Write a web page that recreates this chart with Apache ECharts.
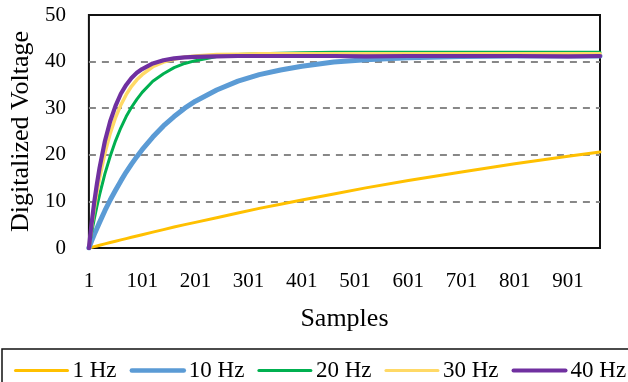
<!DOCTYPE html>
<html>
<head>
<meta charset="utf-8">
<script src="https://cdn.jsdelivr.net/npm/echarts@6/dist/echarts.min.js"></script>
<style>html,body{margin:0;padding:0;background:#fff}#c{width:628px;height:382px}</style>
</head>
<body>
<div id="c"></div>
<script>
var samples = [1, 6, 11, 16, 21, 31, 41, 51, 61, 71, 81, 91, 101, 121, 141, 161, 181, 201, 241, 281, 321, 361, 401, 461, 521, 601, 701, 801, 901, 961];
var hz1  = [0, 0.15, 0.3, 0.44, 0.59, 0.88, 1.17, 1.45, 1.74, 2.02, 2.3, 2.58, 2.85, 3.41, 3.95, 4.49, 5.02, 5.5, 6.5, 7.5, 8.5, 9.4, 10.3, 11.6, 12.9, 14.5, 16.3, 18.1, 19.7, 20.6];
var hz10 = [0, 1.5, 2.9, 4.2, 5.5, 8.0, 10.3, 12.4, 14.4, 16.3, 18.0, 19.6, 21.1, 23.8, 26.2, 28.2, 30.0, 31.5, 33.9, 35.8, 37.2, 38.2, 39.0, 39.9, 40.4, 40.8, 41.1, 41.2, 41.2, 41.2];
var hz20 = [0, 3.2, 6.2, 8.9, 11.4, 15.9, 19.7, 23.0, 25.8, 28.2, 30.2, 31.9, 33.4, 35.8, 37.4, 38.7, 39.6, 40.2, 41.1, 41.5, 41.7, 41.8, 41.9, 42.0, 42.0, 42.0, 42.0, 42.0, 42.0, 42.0];
var hz30 = [0, 4.4, 8.3, 11.8, 15.0, 20.3, 24.6, 28.0, 30.7, 32.9, 34.7, 36.1, 37.2, 38.9, 39.9, 40.5, 41.0, 41.2, 41.5, 41.6, 41.7, 41.7, 41.7, 41.7, 41.7, 41.7, 41.7, 41.7, 41.7, 41.7];
var hz40 = [0, 5.2, 9.8, 13.7, 17.2, 22.9, 27.2, 30.5, 33.1, 35.0, 36.5, 37.6, 38.4, 39.6, 40.3, 40.7, 40.9, 41.0, 41.1, 41.2, 41.2, 41.2, 41.2, 41.2, 41.1, 41.2, 41.2, 41.2, 41.1, 41.2];
var seriesNames = ['1 Hz', '10 Hz', '20 Hz', '30 Hz', '40 Hz'];
var seriesValues = [hz1, hz10, hz20, hz30, hz40];
var colors = ['#FFC000', '#5B9BD5', '#00B050', '#FFD966', '#7030A0'];
var widths = [3, 5, 3, 3.5, 4.2];
var legendWidths = [3, 4.5, 3, 3, 4];
var xTickLabels = ['1', '101', '201', '301', '401', '501', '601', '701', '801', '901'];

var FONT = 'Liberation Serif';
function pairs(ys) { return samples.map(function (x, i) { return [x, ys[i]]; }); }

var chart = echarts.init(document.getElementById('c'), null, {renderer: 'canvas'});
chart.setOption({
  animation: false,
  backgroundColor: '#fff',
  grid: {left: 87, right: 28, top: 15, bottom: 134, show: true, borderColor: '#111', borderWidth: 2, backgroundColor: 'transparent'},
  legend: {
    data: seriesNames.map(function (n, i) {
      return {name: n, lineStyle: {width: legendWidths[i], cap: 'round', color: colors[i]}, itemStyle: {opacity: 0}};
    }),
    left: 2, top: 349, width: 700,
    padding: [10, 12, 10, 12],
    borderColor: '#111', borderWidth: 1.5,
    itemWidth: 52, itemHeight: 14, itemGap: 13,
    itemStyle: {opacity: 0},
    textStyle: {fontFamily: FONT, fontSize: 23, color: '#000'}
  },
  xAxis: {
    type: 'value', min: 1, max: 961, interval: 100,
    name: 'Samples', nameLocation: 'middle', nameGap: 58,
    nameTextStyle: {fontFamily: FONT, fontSize: 26, color: '#000'},
    axisLine: {show: false}, axisTick: {show: false}, splitLine: {show: false},
    axisLabel: {
      margin: 23, fontFamily: FONT, fontSize: 21, color: '#000',
      showMaxLabel: false,
      formatter: function (v) { var s = String(v); return xTickLabels.indexOf(s) >= 0 ? s : ''; }
    }
  },
  yAxis: {
    type: 'value', min: 0, max: 50, interval: 10,
    name: 'Digitalized Voltage', nameLocation: 'middle', nameGap: 54,
    nameTextStyle: {fontFamily: FONT, fontSize: 26, color: '#000'},
    axisLine: {show: false}, axisTick: {show: false},
    axisLabel: {margin: 23, fontFamily: FONT, fontSize: 21, color: '#000'},
    splitLine: {show: true, showMinLine: false, showMaxLine: false, lineStyle: {color: '#888', width: 2, type: [7, 6]}}
  },
  series: seriesNames.map(function (n, i) {
    return {
      name: n, type: 'line', data: pairs(seriesValues[i]),
      symbol: 'none', smooth: false,
      lineStyle: {color: colors[i], width: widths[i], cap: 'round', join: 'round'},
      itemStyle: {color: colors[i]}
    };
  })
});
</script>
</body>
</html>
